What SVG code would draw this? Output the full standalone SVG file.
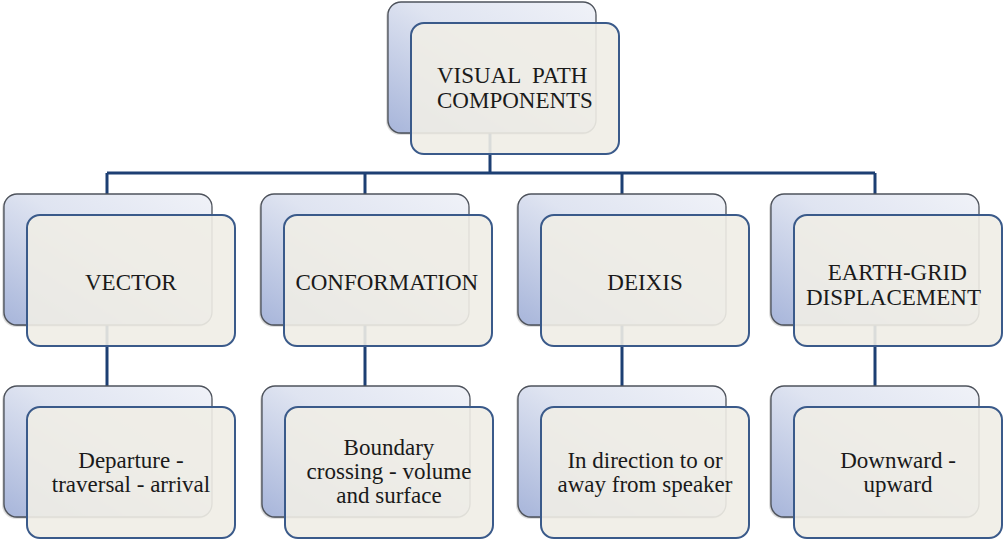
<svg xmlns="http://www.w3.org/2000/svg" width="1003" height="541" viewBox="0 0 1003 541">
  <defs>
    <linearGradient id="backFill" x1="1" y1="0" x2="0" y2="1">
      <stop offset="0" stop-color="#f0f2f8"/>
      <stop offset="0.45" stop-color="#dfe4f1"/>
      <stop offset="1" stop-color="#a7b5da"/>
    </linearGradient>
    <!-- a card: shaded back panel with the beige front panel offset over it -->
    <g id="card">
      <rect x="-2" y="1" width="210" height="132" rx="14" fill="#000" fill-opacity="0.12"/>
      <rect x="-1" y="0.5" width="209" height="131.5" rx="13.5" fill="#000" fill-opacity="0.2"/>
      <rect x="0" y="0" width="208" height="131" rx="13" fill="url(#backFill)" stroke="#4e535c" stroke-width="1.3"/>
      <rect x="23" y="21" width="208" height="131" rx="13" fill="#efede5" fill-opacity="0.9" stroke="#3a5a8a" stroke-width="2"/>
    </g>
  </defs>

  <rect width="1003" height="541" fill="#ffffff"/>

  <!-- connectors -->
  <g id="connectors" stroke="#1d3f73" stroke-width="3" fill="none">
    <path d="M490 133 V173"/>
    <path d="M107 173 H875"/>
    <path d="M107 173 V194"/>
    <path d="M365 173 V194"/>
    <path d="M622 173 V194"/>
    <path d="M875 173 V194"/>
    <path d="M107 325 V386"/>
    <path d="M365 325 V386"/>
    <path d="M622 325 V386"/>
    <path d="M875 325 V386"/>
  </g>

  <!-- labels are left-aligned at precomputed starts so each line is centred on its card -->
  <g font-size="23" fill="#1a1a1a">
    <!-- root -->
    <g id="visual-path-components">
      <use href="#card" x="388" y="2"/>
      <text x="437" y="83" font-family="Liberation Serif" xml:space="preserve">VISUAL  PATH</text>
      <text x="437" y="108" font-family="Liberation Serif">COMPONENTS</text>
    </g>

    <!-- second row -->
    <g id="vector">
      <use href="#card" x="4" y="194"/>
      <text x="85" y="290" font-family="Liberation Serif">VECTOR</text>
    </g>
    <g id="conformation">
      <use href="#card" x="261" y="194"/>
      <text x="295.4" y="290" font-family="Liberation Serif">CONFORMATION</text>
    </g>
    <g id="deixis">
      <use href="#card" x="518" y="194"/>
      <text x="607.3" y="290" font-family="Liberation Serif">DEIXIS</text>
    </g>
    <g id="earth-grid-displacement">
      <use href="#card" x="771" y="194"/>
      <text x="827.7" y="280" font-family="Liberation Serif">EARTH-GRID</text>
      <text x="805.9" y="305" font-family="Liberation Serif">DISPLACEMENT</text>
    </g>

    <!-- third row -->
    <g id="departure-traversal-arrival">
      <use href="#card" x="4" y="386"/>
      <text x="78.3" y="468" font-family="Liberation Serif">Departure -</text>
      <text x="51.8" y="492" font-family="Liberation Serif">traversal - arrival</text>
    </g>
    <g id="boundary-crossing">
      <use href="#card" x="262" y="386"/>
      <text x="343.6" y="455" font-family="Liberation Serif">Boundary</text>
      <text x="306.6" y="479" font-family="Liberation Serif">crossing - volume</text>
      <text x="336.3" y="503" font-family="Liberation Serif">and surface</text>
    </g>
    <g id="direction-speaker">
      <use href="#card" x="518" y="386"/>
      <text x="567.4" y="468" font-family="Liberation Serif">In direction to or</text>
      <text x="557.5" y="492" font-family="Liberation Serif">away from speaker</text>
    </g>
    <g id="downward-upward">
      <use href="#card" x="771" y="386"/>
      <text x="840.2" y="468" font-family="Liberation Serif">Downward -</text>
      <text x="863.5" y="492" font-family="Liberation Serif">upward</text>
    </g>
  </g>
</svg>
